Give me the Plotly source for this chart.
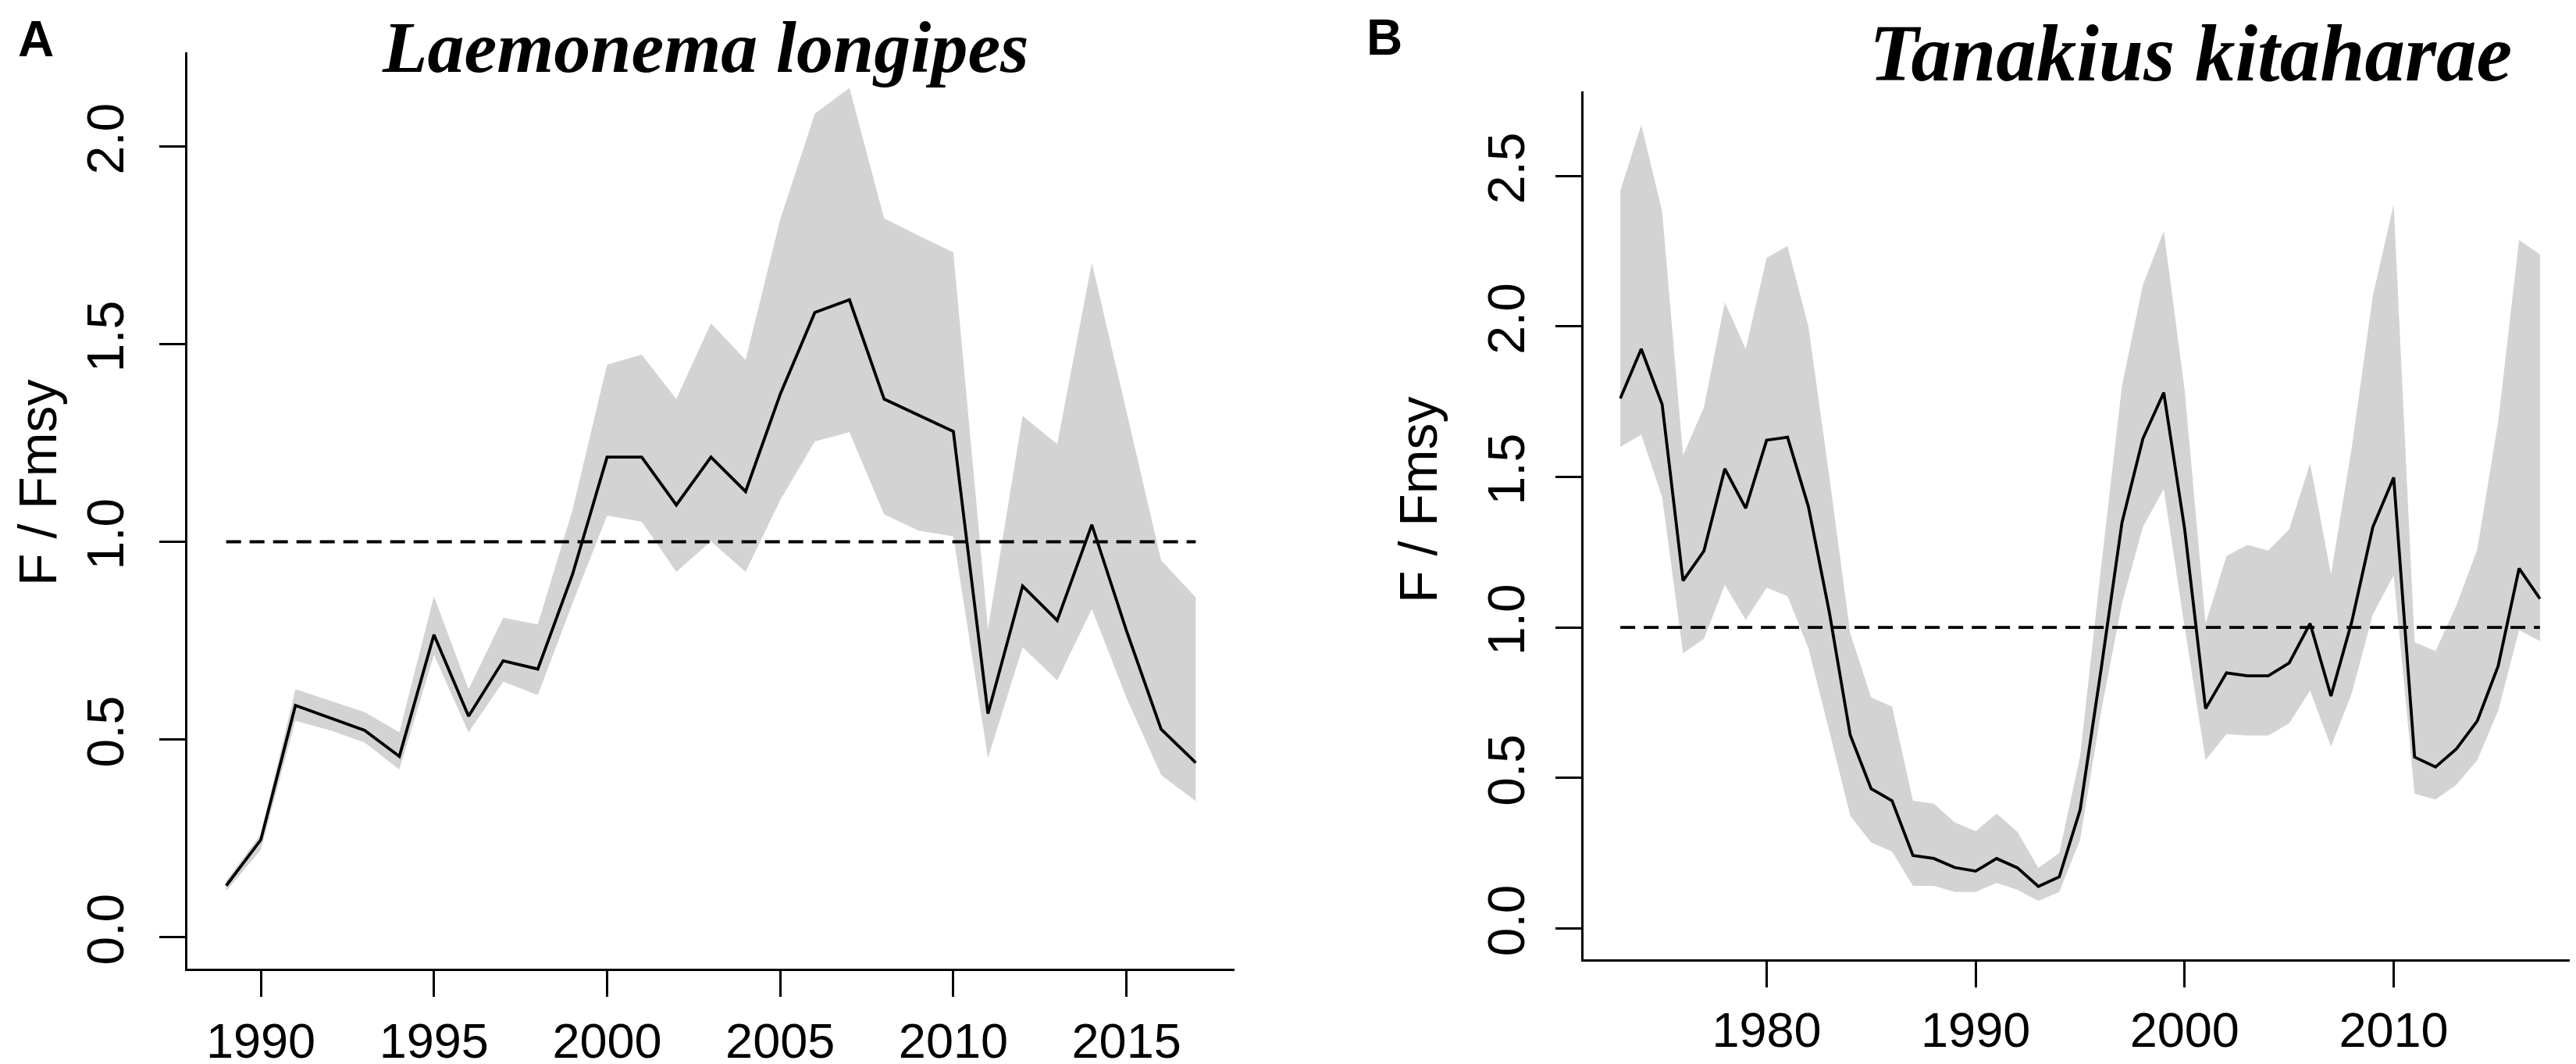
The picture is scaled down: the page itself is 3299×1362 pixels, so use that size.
import plotly.graph_objects as go

# Panel A: Laemonema longipes
years_a = list(range(1989, 2018))
mid_a = [0.13, 0.246, 0.586, 0.554, 0.523, 0.457, 0.765, 0.559, 0.699, 0.678,
         0.917, 1.214, 1.214, 1.093, 1.214, 1.127, 1.373, 1.580, 1.612, 1.361,
         1.319, 1.279, 0.565, 0.888, 0.801, 1.043, 0.775, 0.526, 0.441]
upper_a = [0.142, 0.26, 0.627, 0.598, 0.569, 0.518, 0.862, 0.627, 0.808, 0.791,
           1.080, 1.448, 1.473, 1.361, 1.553, 1.460, 1.815, 2.083, 2.148, 1.818,
           1.774, 1.732, 0.779, 1.318, 1.247, 1.706, 1.33, 0.953, 0.859]
lower_a = [0.116, 0.221, 0.547, 0.523, 0.492, 0.424, 0.714, 0.518, 0.646, 0.612,
           0.844, 1.066, 1.051, 0.924, 1.001, 0.924, 1.105, 1.254, 1.277, 1.069,
           1.028, 1.014, 0.453, 0.733, 0.649, 0.830, 0.605, 0.410, 0.344]

# Panel B: Tanakius kitaharae
years_b = list(range(1973, 2018))
mid_b = [1.761, 1.925, 1.741, 1.155, 1.254, 1.527, 1.396, 1.622, 1.632, 1.401,
         1.05, 0.642, 0.464, 0.424, 0.242, 0.232, 0.202, 0.190, 0.232, 0.201,
         0.139, 0.171, 0.394, 0.86, 1.348, 1.627, 1.780, 1.326, 0.730, 0.849,
         0.839, 0.839, 0.882, 1.013, 0.772, 1.02, 1.333, 1.498, 0.569, 0.536,
         0.596, 0.689, 0.872, 1.196, 1.095]
upper_b = [2.451, 2.670, 2.382, 1.572, 1.731, 2.080, 1.925, 2.228, 2.267, 1.999,
           1.50, 0.98, 0.767, 0.737, 0.424, 0.414, 0.352, 0.323, 0.381, 0.320,
           0.201, 0.250, 0.573, 1.2, 1.803, 2.138, 2.317, 1.788, 1.013, 1.237,
           1.274, 1.255, 1.326, 1.545, 1.177, 1.6, 2.101, 2.406, 0.951, 0.921,
           1.073, 1.259, 1.684, 2.287, 2.239]
lower_b = [1.600, 1.640, 1.433, 0.914, 0.962, 1.141, 1.025, 1.131, 1.104, 0.930,
           0.655, 0.374, 0.285, 0.255, 0.141, 0.141, 0.121, 0.121, 0.151, 0.128,
           0.091, 0.121, 0.295, 0.72, 1.080, 1.333, 1.460, 1.0, 0.559, 0.645,
           0.641, 0.641, 0.681, 0.790, 0.604, 0.782, 1.043, 1.173, 0.447, 0.428,
           0.477, 0.559, 0.723, 0.991, 0.954]

xticks_a = [1990, 1995, 2000, 2005, 2010, 2015]
xticks_b = [1980, 1990, 2000, 2010]
yticks_a = [0.0, 0.5, 1.0, 1.5, 2.0]
yticks_b = [0.0, 0.5, 1.0, 1.5, 2.0, 2.5]

W, H = 3299, 1362
SANS = "Liberation Sans, Arial, sans-serif"
SERIF = "Liberation Serif, Times New Roman, serif"

fig = go.Figure()


def add_panel(years, mid, lower, upper, xa, ya):
    # shaded interval
    fig.add_trace(go.Scatter(
        x=years + years[::-1], y=lower + upper[::-1],
        fill="toself", fillcolor="#d3d3d3", line=dict(width=0),
        mode="lines", hoverinfo="skip", xaxis=xa, yaxis=ya))
    fig.add_trace(go.Scatter(
        x=years, y=mid, mode="lines", line=dict(color="black", width=3.8),
        xaxis=xa, yaxis=ya))
    # reference line F = Fmsy
    fig.add_trace(go.Scatter(
        x=years, y=[1.0] * len(years), mode="lines",
        line=dict(color="black", width=3.8, dash="19px,11px"),
        xaxis=xa, yaxis=ya))


add_panel(years_a, mid_a, lower_a, upper_a, "x", "y")
add_panel(years_b, mid_b, lower_b, upper_b, "x2", "y2")

axis_style = dict(
    showgrid=False, zeroline=False, showline=True, linecolor="black",
    linewidth=3, ticks="outside", ticklen=33, tickwidth=3, tickcolor="black",
)
yfont = dict(family=SANS, size=66, color="black")
xfont = dict(family=SANS, size=63, color="black")

fig.update_layout(
    width=W, height=H,
    margin=dict(l=0, r=0, t=0, b=0),
    paper_bgcolor="white", plot_bgcolor="white",
    showlegend=False,
    xaxis=dict(domain=[232 / W, 1573 / W], range=[1987.88, 2018.12],
               tickvals=xticks_a, anchor="y", ticklabelstandoff=2,
               tickfont=xfont, **axis_style),
    yaxis=dict(domain=[(H - 1232) / H, (H - 59) / H], range=[-0.08, 2.238],
               tickvals=yticks_a, ticktext=[f"{v:.1f}" for v in yticks_a],
               tickangle=-90, anchor="x", ticklabelstandoff=20,
               tickfont=yfont, **axis_style),
    xaxis2=dict(domain=[2020 / W, 3292 / W], range=[1971.24, 2018.76],
                tickvals=xticks_b, anchor="y2", ticklabelstandoff=0,
                tickfont=xfont, **axis_style),
    yaxis2=dict(domain=[(H - 1220) / H, (H - 108.6) / H], range=[-0.103, 2.782],
                tickvals=yticks_b, ticktext=[f"{v:.1f}" for v in yticks_b],
                tickangle=-90, anchor="x2", ticklabelstandoff=14,
                tickfont=yfont, **axis_style),
)

annotations = [
    dict(text="<b><i>Laemonema longipes</i></b>", x=896 / W, y=(H - 106) / H,
         xanchor="center", yanchor="bottom",
         font=dict(family=SERIF, size=94, color="black")),
    dict(text="<b><i>Tanakius kitaharae</i></b>", x=2797 / W, y=(H - 119) / H,
         xanchor="center", yanchor="bottom",
         font=dict(family=SERIF, size=103, color="black")),
    dict(text="<b>A</b>", x=38 / W, y=(H - 42) / H, xanchor="center", yanchor="middle",
         font=dict(family=SANS, size=64, color="black")),
    dict(text="<b>B</b>", x=1765 / W, y=(H - 40) / H, xanchor="center", yanchor="middle",
         font=dict(family=SANS, size=64, color="black")),
    dict(text="F / Fmsy", x=40 / W, y=(H - 610) / H, textangle=-90,
         xanchor="center", yanchor="middle",
         font=dict(family=SANS, size=68, color="black")),
    dict(text="F / Fmsy", x=1808 / W, y=(H - 632) / H, textangle=-90,
         xanchor="center", yanchor="middle",
         font=dict(family=SANS, size=68, color="black")),
]
for a in annotations:
    a.update(xref="paper", yref="paper", showarrow=False)
fig.update_layout(annotations=annotations)

fig.write_html("out.html")
